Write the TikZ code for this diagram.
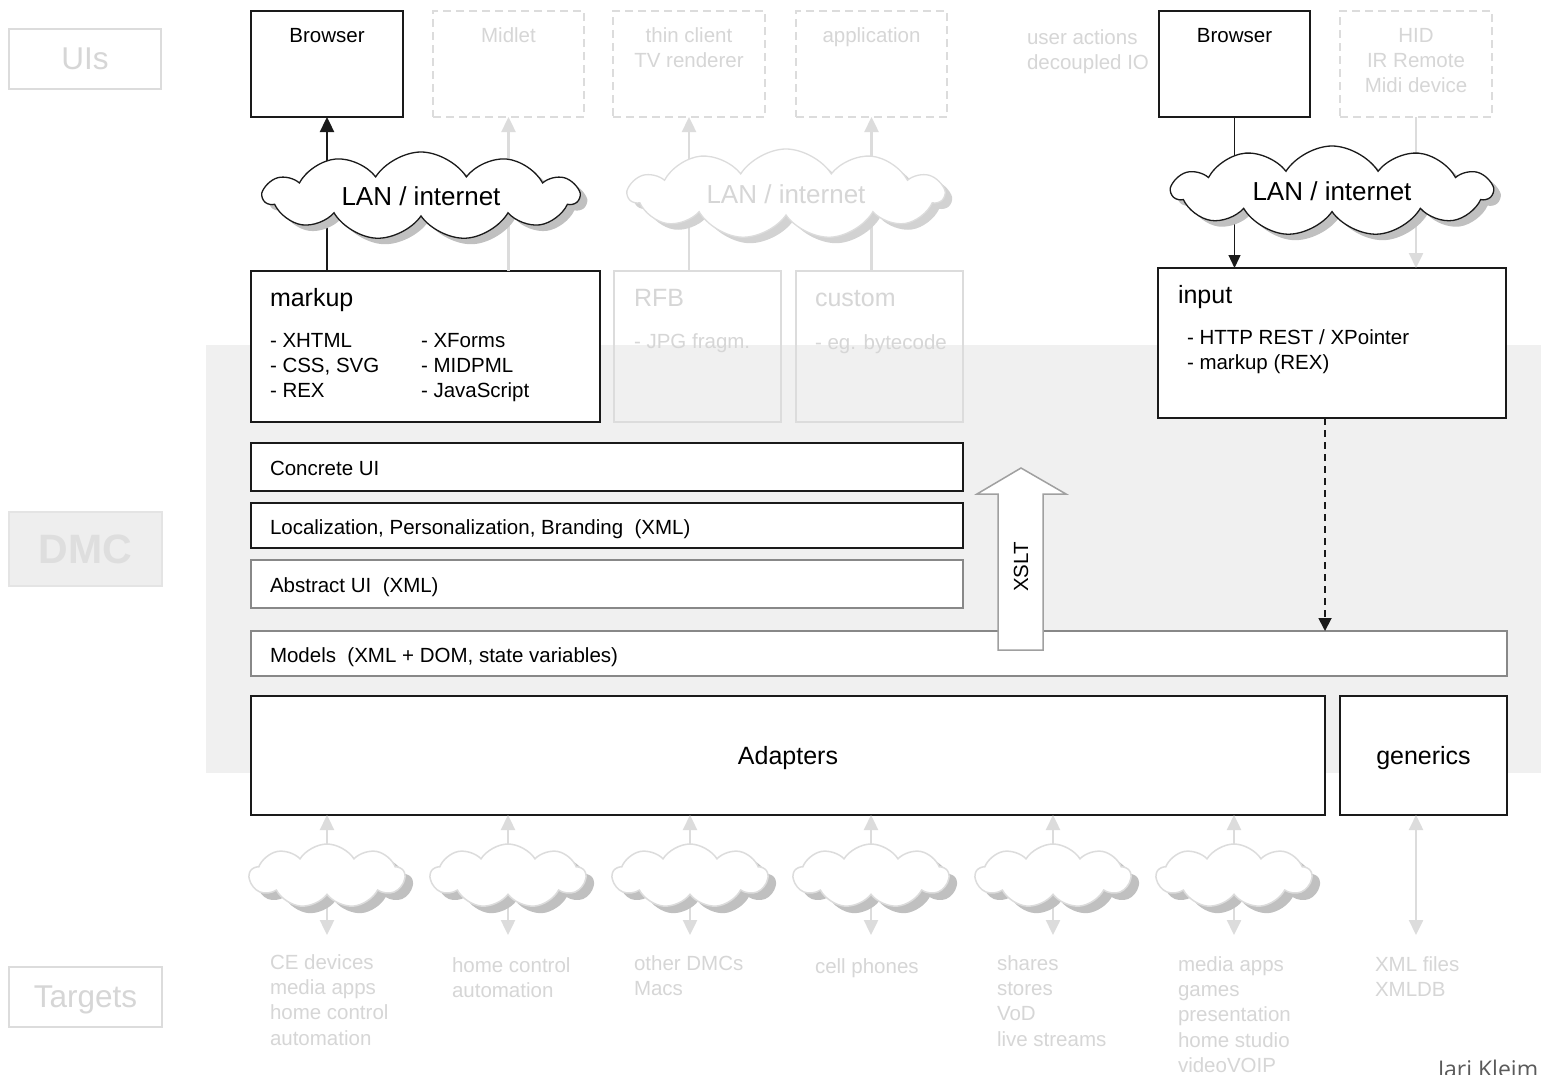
\documentclass[tikz,border=0pt]{standalone}
\usepackage{fontspec}
\setmainfont{Liberation Sans}
\newfontfamily\authorfont{Open Sans}
\usetikzlibrary{shapes.symbols,arrows.meta,calc}
\definecolor{lightc}{RGB}{220,220,220}
\definecolor{lighttxt}{RGB}{214,214,214}
\definecolor{bgc}{RGB}{240,240,240}
\definecolor{shadowc}{RGB}{192,192,192}
\definecolor{lshadowc}{RGB}{210,210,210}
\definecolor{midgray}{RGB}{136,136,136}
\definecolor{darkc}{RGB}{26,26,26}
\definecolor{authorc}{RGB}{90,90,90}
\definecolor{dmcbox}{RGB}{238,238,238}
\definecolor{dmcline}{RGB}{228,228,228}
\definecolor{dmctxt}{RGB}{222,222,222}
\definecolor{xsltc}{RGB}{160,160,160}
\newcommand\fzS{\fontsize{20.5}{25.4}\selectfont}
\newcommand\fzT{\fontsize{25}{30}\selectfont}
\newcommand\fzC{\fontsize{26}{31}\selectfont}
\newcommand\fzL{\fontsize{31.5}{36}\selectfont}
\newcommand\fzD{\fontsize{41}{46}\selectfont\bfseries}
\begin{document}
\begin{tikzpicture}[x=1pt,y=-1pt,
  every node/.style={inner sep=0pt, outer sep=0pt},
  bx/.style 2 args={rectangle, anchor=north west, minimum width=#1, minimum height=#2},
  blk/.style={draw=darkc, line width=1.6pt, fill=white},
  gbx/.style={draw=midgray, line width=2.4pt, fill=white},
  lbx/.style={draw=lightc, line width=2pt},
  dbx/.style={draw=lightc, line width=2pt, dash pattern=on 8pt off 5pt},
  lblbox/.style={draw=lightc, line width=2pt, text=lighttxt, font=\fzL, text depth=0pt},
  dmcbx/.style={draw=dmcline, line width=1.5pt, fill=dmcbox, text=dmctxt, font=\fzD, text depth=0pt},
  txt/.style={font=\fzS, anchor=base west, align=left},
  ltxt/.style={txt, text=lighttxt},
  ctxt/.style={font=\fzS, anchor=base, align=center},
  lctxt/.style={ctxt, text=lighttxt},
  title/.style={font=\fzT, anchor=base west},
  cloudshape/.style n args={3}{cloud, cloud puffs=#3, cloud puff arc=115, cloud ignores aspect, minimum width=#1, minimum height=#2},
  blkarr/.style={draw=darkc, line width=2.4pt, -{Triangle[length=15pt,width=14pt]}},
  larr/.style={draw=lightc, line width=2.4pt, -{Triangle[length=15pt,width=14pt]}},
  ldarr/.style={draw=lightc, line width=2.4pt, {Triangle[length=15pt,width=14pt]}-{Triangle[length=15pt,width=14pt]}},
  thinarr/.style={draw=darkc, line width=1.3pt, -{Triangle[length=13pt,width=12pt]}},
  dasharr/.style={draw=darkc, line width=1.8pt, dash pattern=on 7pt off 5pt, -{Triangle[length=13pt,width=13pt]}}
]
\useasboundingbox (0,0) rectangle (1541,1074);
\clip (0,0) rectangle (1541,1074);
\fill[white] (0,0) rectangle (1541,1074);

% DMC background
\fill[bgc] (206,345) rectangle (1541,773);

% left labels
\node[lblbox, bx={152}{60}] (uis) at (9,29) {UIs};
\node[dmcbx, bx={153}{74}] (dmclab) at (9,512) {DMC};
\node[lblbox, bx={153}{60}] (targets) at (9,967) {Targets};

% top UI boxes (multi-line texts are placed by the baseline of their last line)
\node[blk, bx={152}{106}] (b1) at (251,11) {};
\node[ctxt] (b1t) at (327,42) {Browser};
\node[dbx, bx={151}{106}] (midlet) at (433,11) {};
\node[lctxt] (midlett) at (508.5,42) {Midlet};
\node[dbx, bx={152}{106}] (thin) at (613,11) {};
\node[lctxt] (thint) at (689,67.4) {thin client\\TV renderer};
\node[dbx, bx={151}{106}] (appl) at (796,11) {};
\node[lctxt] (applt) at (871.5,42) {application};
\node[ltxt] (usert) at (1027,69.4) {user actions\\decoupled IO};
\node[blk, bx={151}{106}] (b2) at (1159,11) {};
\node[ctxt] (b2t) at (1234.5,42) {Browser};
\node[dbx, bx={152}{106}] (hid) at (1340,11) {};
\node[lctxt] (hidt) at (1416,92.8) {HID\\IR Remote\\Midi device};

% middle boxes
\node[blk, bx={349}{151}] (markup) at (251,271) {};
\node[title] (markupt) at (270,306) {markup};
\node[txt] (ml1) at (270,397.8) {- XHTML\\- CSS, SVG\\- REX};
\node[txt] (ml2) at (421,397.8) {- XForms\\- MIDPML\\- JavaScript};
\node[lbx, bx={167}{151}] (rfb) at (614,271) {};
\node[title, text=lighttxt] (rfbt) at (634,306) {RFB};
\node[ltxt] (rfbl) at (634,348) {- JPG fragm.};
\node[lbx, bx={167}{151}] (custom) at (796,271) {};
\node[title, text=lighttxt] (customt) at (815,306) {custom};
\node[ltxt] (customl) at (815,349) {- eg. bytecode};
\node[blk, bx={348}{150}] (input) at (1158,268) {};
\node[title] (inputt) at (1178,303) {input};
\node[txt] (inputl) at (1187,369.4) {- HTTP REST / XPointer\\- markup (REX)};

% layers
\node[blk, bx={712}{48}] (concrete) at (251,443) {};
\node[txt] (concretet) at (270,475) {Concrete UI};
\node[blk, bx={712}{45}] (local) at (251,503) {};
\node[txt] (localt) at (270,534) {Localization, Personalization, Branding~ (XML)};
\node[gbx, bx={712}{48}] (abstract) at (251,560) {};
\node[txt] (abstractt) at (270,592) {Abstract UI~ (XML)};
\node[gbx, bx={1256}{45}] (models) at (251,631) {};
\node[txt] (modelst) at (270,662) {Models~ (XML + DOM, state variables)};
\node[blk, bx={1074}{119}, font=\fzT, text depth=0pt] (adapters) at (251,696) {Adapters};
\node[blk, bx={167}{119}, font=\fzT, text depth=0pt] (generics) at (1340,696) {generics};

% arrows top
\draw[blkarr] (b1.south |- markup.north) -- (b1.south);
\draw[larr] (midlet.south |- markup.north) -- (midlet.south);
\draw[larr] (thin.south |- rfb.north) -- (thin.south);
\draw[larr] (appl.south |- custom.north) -- (appl.south);
\draw[thinarr] (b2.south) -- (b2.south |- input.north);
\draw[larr] (hid.south) -- (hid.south |- input.north);
\draw[dasharr] ([xshift=-7pt]input.south) -- ([xshift=-7pt]input.south |- models.north);

% bottom arrows
\coordinate (t1) at (327,935);
\coordinate (t2) at (508,935);
\coordinate (t3) at (690,935);
\coordinate (t4) at (871,935);
\coordinate (t5) at (1053,935);
\coordinate (t6) at (1234,935);
\coordinate (t7) at (1416,935);
\foreach \t in {t1,t2,t3,t4,t5,t6}{
  \draw[ldarr] (adapters.south -| \t) -- (\t);
}
\draw[ldarr] (generics.south -| t7) -- (t7);

% top clouds
\node[cloudshape={315}{88}{11}, fill=shadowc] (c1s) at (428,202) {};
\node[cloudshape={315}{88}{11}, draw=darkc, line width=1.3pt, fill=white, font=\fzC] (c1) at (421,196) {LAN / internet};
\node[cloudshape={315}{90}{11}, fill=lshadowc] (c2s) at (793,200) {};
\node[cloudshape={315}{90}{11}, draw=lightc, line width=1.3pt, fill=white, font=\fzC, text=lighttxt] (c2) at (786,194) {LAN / internet};
\node[cloudshape={320}{90}{11}, fill=shadowc] (c3s) at (1339,197) {};
\node[cloudshape={320}{90}{11}, draw=darkc, line width=1.3pt, fill=white, font=\fzC] (c3) at (1332,191) {LAN / internet};

% bottom clouds
\foreach \t [count=\i] in {t1,t2,t3,t4,t5,t6}{
  \node[cloudshape={155}{64}{9}, fill=shadowc] (k\i s) at ($(\t)+(8,-52)$) {};
  \node[cloudshape={155}{64}{9}, draw=lightc, line width=1.5pt, fill=white] (k\i) at ($(\t)+(0,-59)$) {};
}

% XSLT block arrow
\draw[draw=xsltc, line width=1.5pt, fill=white] (998,650) -- (998,494) -- (977,494) -- (1021,468) -- (1066,494) -- (1043,494) -- (1043,650) -- cycle;
\node[font=\fzS, rotate=90] (xslt) at (1021,567) {XSLT};

% targets texts (baseline of last line)
\node[ltxt] (tg1) at (270,1045.2) {CE devices\\media apps\\home control\\automation};
\node[ltxt] (tg2) at (452,997.4) {home control\\automation};
\node[ltxt] (tg3) at (634,995.4) {other DMCs\\Macs};
\node[ltxt] (tg4) at (815,973) {cell phones};
\node[ltxt] (tg5) at (997,1046.2) {shares\\stores\\VoD\\live streams};
\node[ltxt] (tg6) at (1178,1072.6) {media apps\\games\\presentation\\home studio\\videoVOIP};
\node[ltxt] (tg7) at (1375,996.4) {XML files\\XMLDB};

% author
\node[font=\authorfont\fontsize{23}{27}\selectfont, text=authorc, anchor=base west] (author) at (1438,1077) {Jari Kleim};
\end{tikzpicture}
\end{document}
